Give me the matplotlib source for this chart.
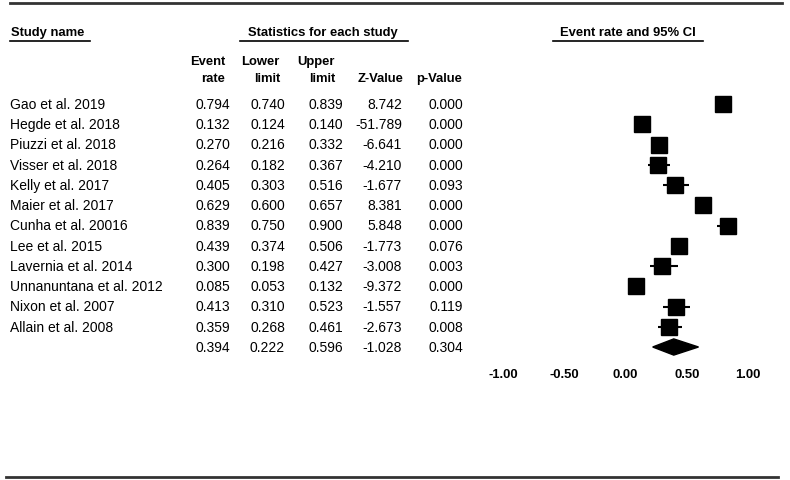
import matplotlib
matplotlib.use("Agg")
import matplotlib.pyplot as plt
from matplotlib.lines import Line2D
from matplotlib.patches import Polygon

plt.rcParams['font.family'] = ['Liberation Sans', 'DejaVu Sans']

studies = ["Gao et al. 2019", "Hegde et al. 2018", "Piuzzi et al. 2018", "Visser et al. 2018",
           "Kelly et al. 2017", "Maier et al. 2017", "Cunha et al. 20016", "Lee et al. 2015",
           "Lavernia et al. 2014", "Unnanuntana et al. 2012", "Nixon et al. 2007", "Allain et al. 2008"]
event_rate = [0.794, 0.132, 0.270, 0.264, 0.405, 0.629, 0.839, 0.439, 0.300, 0.085, 0.413, 0.359]
lower = [0.740, 0.124, 0.216, 0.182, 0.303, 0.600, 0.750, 0.374, 0.198, 0.053, 0.310, 0.268]
upper = [0.839, 0.140, 0.332, 0.367, 0.516, 0.657, 0.900, 0.506, 0.427, 0.132, 0.523, 0.461]
z_value = ["8.742", "-51.789", "-6.641", "-4.210", "-1.677", "8.381", "5.848", "-1.773",
           "-3.008", "-9.372", "-1.557", "-2.673"]
p_value = ["0.000", "0.000", "0.000", "0.000", "0.093", "0.000", "0.000", "0.076",
           "0.003", "0.000", "0.119", "0.008"]
summary = {"rate": 0.394, "lower": 0.222, "upper": 0.596, "z": "-1.028", "p": "0.304"}
xticks = [-1.0, -0.5, 0.0, 0.5, 1.0]
xticklabels = ["-1.00", "-0.50", "0.00", "0.50", "1.00"]

W, H = 790, 481
fig = plt.figure(figsize=(W / 100, H / 100), dpi=100)
fig.patch.set_facecolor("white")

def fx(px):
    return px / W

def fy(py):
    return 1 - py / H

FS = 10.0
FSB = 9.4

def t(px, py, s, ha="left", bold=False):
    fig.text(fx(px), fy(py), s, ha=ha, va="center",
             fontsize=FSB if bold else FS,
             fontweight="bold" if bold else "normal", color="black")

def hline(x0, x1, py, lw=1.2, color="black"):
    fig.add_artist(Line2D([fx(x0), fx(x1)], [fy(py), fy(py)], lw=lw, color=color,
                          transform=fig.transFigure))

# rules
hline(10, 782, 3.5, lw=2.0, color="#333333")
hline(6, 778, 477.5, lw=2.0, color="#333333")

# headers
t(11, 33, "Study name", bold=True)
hline(10, 90, 41.5)
t(323, 33, "Statistics for each study", ha="center", bold=True)
hline(240, 408, 41.5)
t(628, 33, "Event rate and 95% CI", ha="center", bold=True)
hline(553, 703, 41.5)

col_right = [230, 285, 343, 402, 463]
hdr1 = ["Event", "Lower", "Upper", "", ""]
hdr2 = ["rate", "limit", "limit", "Z-Value", "p-Value"]
hdr_right = [225, 280, 335, 403, 462]
for xr, a, b in zip(hdr_right, hdr1, hdr2):
    if a:
        t(xr, 62, a, ha="right", bold=True)
    t(xr, 79, b, ha="right", bold=True)

row0, dy = 105, 20.25
for i, name in enumerate(studies):
    y = row0 + i * dy
    t(10, y, name)
    vals = [f"{event_rate[i]:.3f}", f"{lower[i]:.3f}", f"{upper[i]:.3f}", z_value[i], p_value[i]]
    for xr, v in zip(col_right, vals):
        t(xr, y, v, ha="right")
ys = row0 + len(studies) * dy
svals = [f"{summary['rate']:.3f}", f"{summary['lower']:.3f}", f"{summary['upper']:.3f}",
         summary["z"], summary["p"]]
for xr, v in zip(col_right, svals):
    t(xr, ys, v, ha="right")

# forest axes: x -1 -> px 503, x 1 -> px 748 ; rows -0.5 .. 12.5
n = len(studies) + 1
top_px = row0 - 0.5 * dy
bot_px = row0 + (n - 0.5) * dy
ax = fig.add_axes([fx(503), fy(bot_px), fx(748) - fx(503), (bot_px - top_px) / H])
ax.set_xlim(-1, 1)
ax.set_ylim(n - 0.5, -0.5)
ax.set_facecolor("none")
for s in ax.spines.values():
    s.set_visible(False)
ax.set_yticks([])
ax.set_xticks(xticks)
ax.set_xticklabels(xticklabels, fontweight="bold", fontsize=FSB)
ax.tick_params(axis="x", length=0, pad=8)

for i in range(len(studies)):
    ax.plot([lower[i], upper[i]], [i, i], color="black", lw=1.5, solid_capstyle="butt")
    ax.plot(event_rate[i], i, marker="s", markersize=11.5, color="black", linestyle="none")

yi = len(studies)
diamond = Polygon([(summary["lower"], yi), (summary["rate"], yi - 0.4),
                   (summary["upper"], yi), (summary["rate"], yi + 0.4)],
                  closed=True, facecolor="black", edgecolor="black")
ax.add_patch(diamond)

fig.savefig("out.png", dpi=100, facecolor="white")
